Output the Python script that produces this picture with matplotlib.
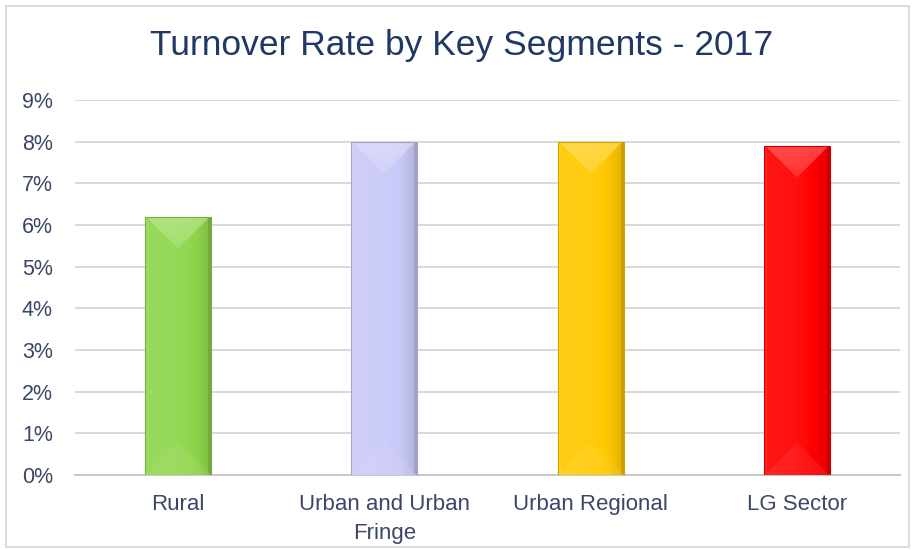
import numpy as np
import matplotlib
matplotlib.use("Agg")
import matplotlib.pyplot as plt
from matplotlib.colors import to_rgb
from matplotlib.patches import Rectangle
from matplotlib.ticker import FuncFormatter

plt.rcParams['font.family'] = ['Liberation Sans', 'DejaVu Sans']

# Data
segments = ["Rural", "Urban and Urban\nFringe", "Urban Regional", "LG Sector"]
turnover_pct = [6.2, 8.0, 8.0, 7.9]
bar_colors = ["#8fd64c", "#c9c9f8", "#ffc800", "#ff0000"]
y_ticks = list(range(0, 10))

TITLE = "Turnover Rate by Key Segments - 2017"
TEXT_COLOR = "#3b4668"
TITLE_COLOR = "#1f3864"

W, H, DPI = 913, 550, 100
fig = plt.figure(figsize=(W / DPI, H / DPI), dpi=DPI)
fig.patch.set_facecolor("white")
ax = fig.add_axes([75 / W, 75 / H, 825 / W, 375 / H])

x = np.arange(len(segments))
bars = ax.bar(x, turnover_pct, width=0.32, color=bar_colors, zorder=3,
              linewidth=0)

ax.set_xlim(-0.5, len(segments) - 0.5)
ax.set_ylim(0, 9)
ax.set_yticks(y_ticks)
ax.yaxis.set_major_formatter(FuncFormatter(lambda v, _: f"{v:.0f}%"))
ax.set_xticks(x)
ax.set_xticklabels(segments)
ax.grid(axis="y", color="#d9d9d9", linewidth=1.4, zorder=0)
ax.set_axisbelow(True)
for side in ("top", "right", "left"):
    ax.spines[side].set_visible(False)
ax.spines["bottom"].set_color("#c8c8c8")
ax.spines["bottom"].set_linewidth(1.4)
ax.tick_params(axis="both", length=0, colors=TEXT_COLOR)
ax.tick_params(axis="y", pad=16, labelsize=15.5)
ax.tick_params(axis="x", pad=14, labelsize=16)
for lbl in ax.get_xticklabels():
    lbl.set_linespacing(1.5)


def bevel_shading(base, wpx, hpx):
    """RGBA image giving a soft bevelled prism look to a bar of wpx x hpx pixels."""
    base = np.array(to_rgb(base))
    yy, xx = np.mgrid[0:hpx, 0:wpx].astype(float)
    dl = xx + 0.5
    dr = wpx - xx - 0.5
    dt = yy + 0.5
    db = hpx - yy - 0.5
    img = np.tile(base, (hpx, wpx, 1))
    # soft horizontal gradient: lighter left, darker right
    u = xx / max(wpx - 1, 1)
    shade = 0.08 - 0.20 * u ** 3
    img = np.where(shade[..., None] > 0,
                   img + (1 - img) * shade[..., None],
                   img * (1 + shade[..., None]))
    light = base + (1 - base) * 0.45
    # top face: chevron with soft falloff towards its apex
    m_top = dt < np.minimum(dl, dr)
    t = np.clip(1 - dt / (wpx / 2), 0, 1) ** 0.6
    blend = np.where(m_top, 0.25 + 0.35 * t, 0.0)
    img = img * (1 - blend[..., None]) + light * blend[..., None]
    # bottom face: faint chevron
    m_bot = (db < np.minimum(dl, dr)) & ~m_top
    img[m_bot] = img[m_bot] * 0.85 + light * 0.15
    # thin side faces
    side = 3.0
    m_left = (dl < side) & ~m_top & ~m_bot
    m_right = (dr < side) & ~m_top & ~m_bot
    img[m_left] = img[m_left] * 0.85 + light * 0.15
    img[m_right] = img[m_right] * 0.9
    alpha = np.ones((hpx, wpx, 1))
    return np.clip(np.concatenate([img, alpha], axis=2), 0, 1)


fig.canvas.draw()
for bar, col in zip(bars, bar_colors):
    x0, y0 = bar.get_x(), bar.get_y()
    bw, bh = bar.get_width(), bar.get_height()
    p0 = ax.transData.transform((x0, y0))
    p1 = ax.transData.transform((x0 + bw, y0 + bh))
    wpx = max(int(round(p1[0] - p0[0])), 2)
    hpx = max(int(round(p1[1] - p0[1])), 2)
    im = ax.imshow(bevel_shading(col, wpx, hpx),
                   extent=(x0, x0 + bw, y0, y0 + bh),
                   aspect="auto", zorder=4, interpolation="bilinear")
    im.set_clip_path(bar)
    ax.add_patch(Rectangle((x0, y0), bw, bh, fill=False,
                           edgecolor=np.array(to_rgb(col)) * 0.82,
                           linewidth=0.8, zorder=5))

ax.set_xlim(-0.5, len(segments) - 0.5)
ax.set_ylim(0, 9)

fig.text(462 / W, 1 - 46 / H, TITLE, ha="center", va="center",
         fontsize=25.5, color=TITLE_COLOR)

# light frame around the whole chart
fig.add_artist(Rectangle((6 / W, 3 / H), 903 / W, 541 / H,
                         transform=fig.transFigure, fill=False,
                         edgecolor="#d4d4d4", linewidth=1.2))

fig.savefig("out.png", dpi=DPI)
